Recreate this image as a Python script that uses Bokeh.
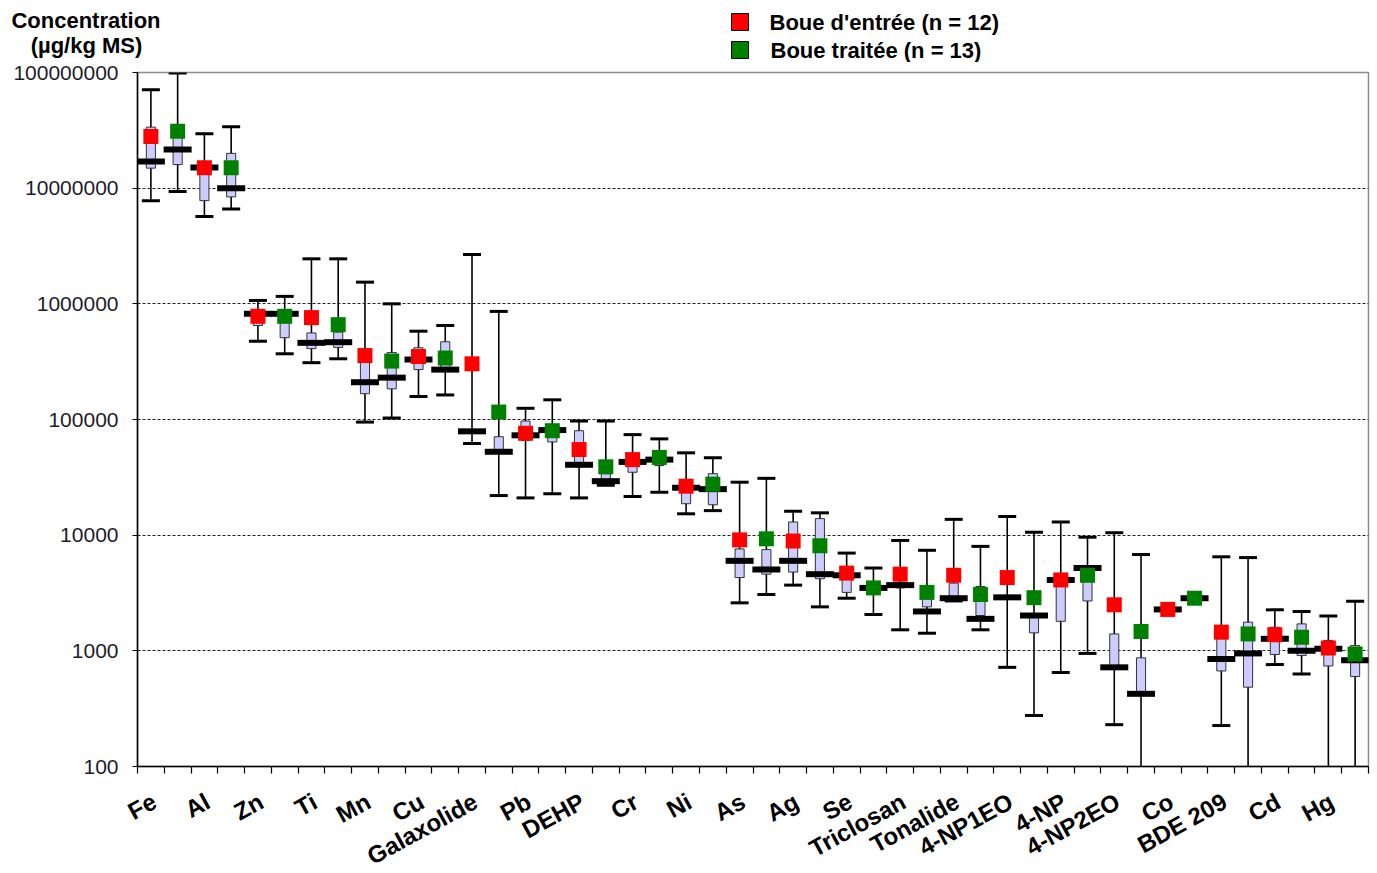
from bokeh.plotting import figure
from bokeh.layouts import column
from bokeh.models import (ColumnDataSource, Range1d, FixedTicker, CustomJSTickFormatter)
from bokeh.core.properties import value
from bokeh.embed import file_html
from bokeh.resources import INLINE

# ---------------- data (µg/kg MS) ----------------
categories = ["Fe", "Al", "Zn", "Ti", "Mn", "Cu", "Galaxolide", "Pb", "DEHP", "Cr", "Ni",
              "As", "Ag", "Se", "Triclosan", "Tonalide", "4-NP1EO", "4-NP", "4-NP2EO",
              "Co", "BDE 209", "Cd", "Hg"]

# Boue d'entrée (n = 12)
ent_min = [7.8e6, 5.7e6, 4.75e5, 3.1e5, 9.5e4, 1.58e5, 6.2e4, 2.1e4, 2.1e4, 2.16e4, 1.53e4,
           2.6e3, 3.7e3, 2.85e3, 1.52e3, 2.7e3, 7.2e2, 6.5e2, 2.3e2, 2.28e3, 2.26e2, 7.6e2, 50]
ent_low = [1.49e7, 7.8e6, 6.5e5, 4.1e5, 1.67e5, 2.7e5, 7.6e4, 6.6e4, 3.9e4, 3.5e4, 1.87e4,
           4.3e3, 4.8e3, 3.2e3, 3.5e3, 2.8e3, 2.8e3, 1.8e3, 7.0e2, 2.28e3, 6.7e2, 9.3e2, 7.4e2]
ent_med = [1.7e7, 1.51e7, 8.2e5, 4.6e5, 2.1e5, 3.3e5, 7.9e4, 7.3e4, 4.06e4, 4.3e4, 2.57e4,
           6.0e3, 6.0e3, 4.5e3, 3.7e3, 2.85e3, 2.9e3, 4.1e3, 7.2e2, 2.28e3, 8.5e2, 1.27e3, 1.04e3]
ent_high = [3.37e7, 1.6e7, 8.5e5, 5.6e5, 3.13e5, 4.17e5, 8.2e4, 9.7e4, 8.0e4, 5.0e4, 2.9e4,
            7.6e3, 1.3e4, 4.9e3, 3.9e3, 3.85e3, 3.0e3, 4.4e3, 1.4e3, 2.28e3, 1.5e3, 1.6e3, 1.23e3]
ent_max = [7.1e7, 2.95e7, 1.07e6, 2.45e6, 1.54e6, 5.8e5, 2.67e6, 1.25e5, 9.7e4, 7.4e4, 5.15e4,
           2.87e4, 1.61e4, 7.0e3, 9.0e3, 1.37e4, 1.45e4, 1.3e4, 1.05e4, 2.28e3, 6.5e3, 2.26e3, 2.0e3]
ent_mean = [2.8e7, 1.5e7, 7.8e5, 7.6e5, 3.57e5, 3.5e5, 3.03e5, 7.6e4, 5.5e4, 4.5e4, 2.65e4,
            9.1e3, 8.9e3, 4.7e3, 4.6e3, 4.5e3, 4.3e3, 4.1e3, 2.5e3, 2.28e3, 1.45e3, 1.38e3, 1.06e3]

# Boue traitée (n = 13)
tr_min = [9.35e6, 6.6e6, 3.7e5, 3.35e5, 1.03e5, 1.63e5, 2.2e4, 2.28e4, 2.7e4, 2.35e4, 1.63e4,
          3.07e3, 2.4e3, 2.06e3, 1.42e3, 1.52e3, 2.76e2, 9.5e2, 50, 2.85e3, 50, 6.3e2, 50]
tr_low = [1.6e7, 8.4e6, 5.1e5, 4.2e5, 1.84e5, 2.6e5, 5.1e4, 6.4e4, 2.85e4, 4.0e4, 1.83e4,
          4.6e3, 4.2e3, 3.3e3, 2.4e3, 2.02e3, 1.43e3, 2.7e3, 4.2e2, 2.85e3, 4.85e2, 9.1e2, 6.0e2]
tr_med = [2.16e7, 1.0e7, 8.2e5, 4.66e5, 2.3e5, 2.7e5, 5.26e4, 8.1e4, 2.93e4, 4.5e4, 2.5e4,
          5.05e3, 4.6e3, 3.5e3, 2.19e3, 1.89e3, 2.02e3, 5.2e3, 4.25e2, 2.85e3, 9.5e2, 1.0e3, 8.3e2]
tr_high = [2.9e7, 2.0e7, 8.5e5, 5.7e5, 3.8e5, 4.7e5, 7.1e4, 8.9e4, 3.4e4, 5.2e4, 3.4e4,
           7.5e3, 1.39e4, 3.7e3, 3.4e3, 3.6e3, 1.95e3, 5.2e3, 8.7e2, 2.85e3, 1.77e3, 1.71e3, 1.11e3]
tr_max = [9.9e7, 3.4e7, 1.16e6, 2.45e6, 1.0e6, 6.5e5, 8.6e5, 1.48e5, 9.7e4, 6.8e4, 4.67e4,
          3.1e4, 1.56e4, 5.2e3, 7.4e3, 8.0e3, 1.06e4, 9.6e3, 6.8e3, 2.85e3, 6.4e3, 2.19e3, 2.68e3]
tr_mean = [3.1e7, 1.5e7, 7.8e5, 6.6e5, 3.2e5, 3.4e5, 1.16e5, 8.0e4, 3.9e4, 4.7e4, 2.76e4,
           9.3e3, 8.1e3, 3.5e3, 3.2e3, 3.07e3, 2.88e3, 4.5e3, 1.47e3, 2.85e3, 1.4e3, 1.31e3, 9.4e2]

y_ticks = [1e2, 1e3, 1e4, 1e5, 1e6, 1e7, 1e8]
legend_labels = ["Boue d'entrée (n = 12)", "Boue traitée (n = 13)"]
title_lines = ["Concentration", "(µg/kg MS)"]
series_colors = ["#FF0000", "#008000"]

FONT = "Liberation Sans"
n = len(categories)
TOP_H = 62

# ---------------- header strip: axis title + legend ----------------
head = figure(width=1377, height=TOP_H, x_range=Range1d(0, 1377), y_range=Range1d(TOP_H, 0),
              min_border=0, x_axis_location=None, y_axis_location=None,
              output_backend="svg", toolbar_location=None)
head.frame_align = False
head.outline_line_color = None
head.grid.visible = False
head.background_fill_color = "white"
head.border_fill_color = "white"
head.text(x=[85.5, 86], y=[19.5, 44.5], text=title_lines, text_align="center",
          text_baseline="middle", text_font=value(FONT), text_font_size=value("22px"),
          text_font_style="bold", text_color="black")
head.rect(x=[739.5, 739.5], y=[21.5, 49.5], width=17, height=17,
          fill_color=series_colors, line_color="black", line_width=1)
head.text(x=[769, 770], y=[21.5, 49.5], text=legend_labels, text_align="left",
          text_baseline="middle", text_font=value(FONT), text_font_size=value("22px"),
          text_font_style="bold", text_color="black")

# ---------------- main chart ----------------
p = figure(frame_width=1231, frame_height=694,
           min_border_left=137, min_border_right=9, min_border_top=72 - TOP_H,
           min_border_bottom=107,
           x_range=Range1d(0, 2 * n), y_range=Range1d(100, 1e8), y_axis_type="log",
           output_backend="svg", toolbar_location=None)
p.frame_align = False
p.background_fill_color = "white"
p.border_fill_color = "white"
p.outline_line_color = "#8c8c8c"
p.outline_line_width = 1.5

SHIFT = 0.37  # category labels sit slightly left of the category centre
xa = p.xaxis[0]
xa.ticker = FixedTicker(ticks=[2 * i + 1 - SHIFT for i in range(n)],
                        minor_ticks=list(range(0, 2 * n + 1)))
xa.formatter = CustomJSTickFormatter(args=dict(cats=categories, shift=SHIFT), code="""
    const i = Math.round((tick + shift - 1) / 2);
    return (i >= 0 && i < cats.length) ? cats[i] : "";
""")
xa.major_tick_line_color = None
xa.major_tick_out = 7
xa.major_tick_in = 0
xa.minor_tick_out = 7
xa.minor_tick_in = 0
xa.minor_tick_line_color = "black"
xa.minor_tick_line_width = 1.2
xa.major_label_orientation = 0.5
xa.major_label_standoff = 26
xa.major_label_text_font = FONT
xa.major_label_text_font_size = "24px"
xa.major_label_text_font_style = "bold"
xa.major_label_text_color = "black"
xa.axis_line_color = "black"
xa.axis_line_width = 1.5
p.xgrid.visible = False

ya = p.yaxis[0]
ya.ticker = FixedTicker(ticks=y_ticks, minor_ticks=[])
ya.formatter = CustomJSTickFormatter(code="return tick.toFixed(0)")
ya.major_tick_out = 5
ya.major_tick_in = 0
ya.minor_tick_out = 0
ya.minor_tick_in = 0
ya.major_label_standoff = 14
ya.major_label_text_font = FONT
ya.major_label_text_font_size = "21px"
ya.major_label_text_color = "#1c1c2c"
ya.axis_line_color = "black"
ya.axis_line_width = 1.5
ya.major_tick_line_color = "black"

p.ygrid.ticker = FixedTicker(ticks=y_ticks[1:-1], minor_ticks=[])
p.ygrid.grid_line_color = "#222222"
p.ygrid.grid_line_dash = "3 2"
p.ygrid.grid_line_width = 1


def draw_series(offset, mins, lows, meds, highs, maxs, means, color):
    src = ColumnDataSource(dict(
        x=[2 * i + offset for i in range(n)],
        lo=mins, bl=lows, med=meds, bh=highs, hi=maxs, mean=means))
    p.segment(x0="x", y0="lo", x1="x", y1="hi", source=src,
              line_color="black", line_width=1.6)
    p.vbar(x="x", width=0.34, bottom="bl", top="bh", source=src,
           fill_color="#CCCCFF", line_color="#333333", line_width=1)
    for col in ("lo", "hi"):
        p.rect(x="x", y=col, width=18, height=3, width_units="screen", height_units="screen",
               source=src, fill_color="black", line_color=None)
    p.rect(x="x", y="med", width=28, height=6, width_units="screen", height_units="screen",
           source=src, fill_color="black", line_color=None)
    p.scatter(x="x", y="mean", marker="square", size=15, source=src,
              fill_color=color, line_color=None)


draw_series(0.5, ent_min, ent_low, ent_med, ent_high, ent_max, ent_mean, series_colors[0])
draw_series(1.5, tr_min, tr_low, tr_med, tr_high, tr_max, tr_mean, series_colors[1])

layout = column(head, p, spacing=0)
open("out.html", "w").write(file_html(layout, INLINE))
